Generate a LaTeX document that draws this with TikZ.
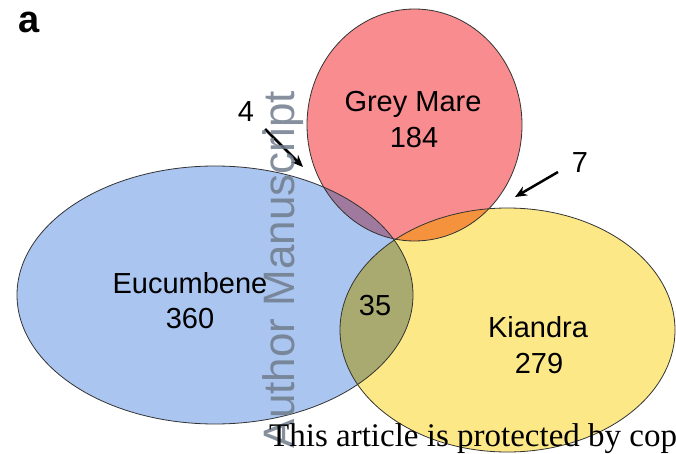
\documentclass[tikz,border=0pt]{standalone}
\usepackage{fontspec}
\newfontfamily\vennfont{Liberation Sans}
\newfontfamily\noticefont{Liberation Serif}
\usepackage{tikz}
\usetikzlibrary{arrows.meta}
\usepackage{xcolor}

\definecolor{eucblue}{RGB}{170,197,240}
\definecolor{greyred}{RGB}{248,140,142}
\definecolor{kiayellow}{RGB}{253,232,135}
\definecolor{lensolive}{RGB}{168,170,112}
\definecolor{lenspurple}{RGB}{160,122,158}
\definecolor{lensorange}{RGB}{245,146,62}
\definecolor{wmgray}{RGB}{112,124,140}

\newcommand{\eucumbeneshape}{(215,295) ellipse [x radius=198pt, y radius=129pt]}
\newcommand{\greymareshape}{(414.5,125) ellipse [x radius=107.5pt, y radius=116pt]}
\newcommand{\kiandrashape}{(507.5,330) ellipse [x radius=167.5pt, y radius=122pt]}

\begin{document}
\begin{tikzpicture}[x=1pt, y=-1pt,
  every node/.style={inner sep=0pt},
  setname/.style={font=\vennfont\fontsize{29}{34}\selectfont, anchor=base},
  pointer/.style={-{Stealth[length=12pt,width=10pt]}, line width=2.5pt},
  rim/.style={draw=black!80, line width=0.8pt}
]
  \clip (0,0) rectangle (676,454);
  \fill[white] (0,0) rectangle (676,454);

  % the three sets
  \fill[eucblue] \eucumbeneshape;
  \fill[greyred] \greymareshape;
  \fill[kiayellow] \kiandrashape;
  \begin{scope}
    \clip \eucumbeneshape;
    \fill[lensolive] \kiandrashape;
    \fill[lenspurple] \greymareshape;
  \end{scope}
  \begin{scope}
    \clip \greymareshape;
    \fill[lensorange] \kiandrashape;
  \end{scope}
  \draw[rim] \eucumbeneshape;
  \draw[rim] \greymareshape;
  \draw[rim] \kiandrashape;

  \foreach \name/\x/\y/\txt in {
    greymare/413/112/Grey Mare,
    greymarenum/414/148/184,
    eucumbene/190/293/Eucumbene,
    eucumbenenum/190/328/360,
    shared/375/315/35,
    kiandra/538/337/Kiandra,
    kiandranum/539/373/279,
    four/246/122/4,
    seven/580/173/7}
    \node[setname] (\name) at (\x,\y) {\txt};

  \coordinate (fourtail) at (265,129);
  \coordinate (fourtip) at (303,167);
  \coordinate (seventail) at (558,172);
  \coordinate (seventip) at (515,197);
  \draw[pointer] (fourtail) -- (fourtip);
  \draw[pointer] (seventail) -- (seventip);

  \node[font=\vennfont\bfseries\fontsize{38}{40}\selectfont, anchor=base west] (panel) at (18,33) {a};

  \node[font=\vennfont\fontsize{44}{48}\selectfont, text=wmgray, opacity=0.85,
    rotate=90, anchor=base east] (watermark) at (294,91) {Author Manuscript};
  \node[font=\noticefont\fontsize{33}{38}\selectfont, anchor=base west] (notice) at (269,446)
    {This article is protected by cop};
\end{tikzpicture}
\end{document}
